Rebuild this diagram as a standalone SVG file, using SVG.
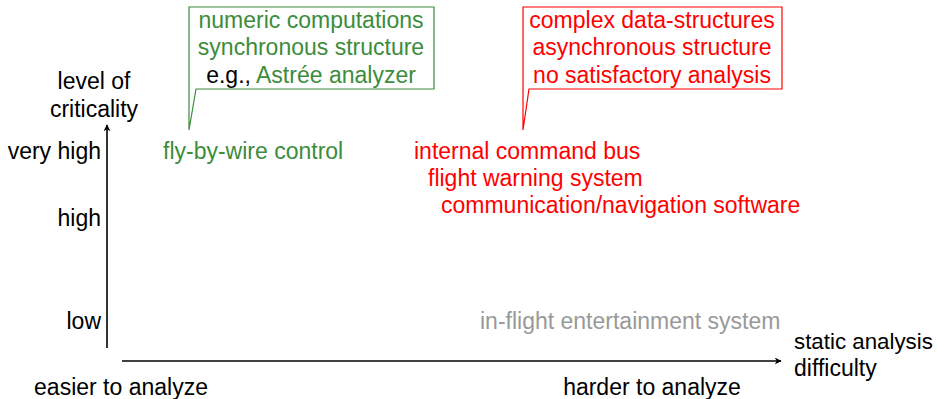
<svg xmlns="http://www.w3.org/2000/svg" width="937" height="399" viewBox="0 0 937 399">
<style>
text{font-family:"Liberation Sans",Arial,sans-serif;font-size:23px;fill:#000}
.g{fill:#3c8c3c}.r{fill:#ff0000}.gr{fill:#999999}
.m{text-anchor:middle}.e{text-anchor:end}
.axis{stroke:#000;stroke-width:1.6;fill:none}
</style>
<defs>
<marker id="ah" viewBox="0 0 10 10" refX="9" refY="5" markerWidth="7" markerHeight="7" orient="auto" markerUnits="userSpaceOnUse">
<path d="M0,0 L10,5 L0,10 L3,5 Z" fill="#000"/>
</marker>
</defs>
<g id="connectors">
<line class="axis" x1="107" y1="348" x2="107" y2="125" marker-end="url(#ah)"/>
<line class="axis" x1="122" y1="361" x2="781" y2="361" marker-end="url(#ah)"/>
</g>
<g id="y-axis-labels">
<text class="m" x="94" y="89">level of</text>
<text class="m" x="94" y="117">criticality</text>
<text class="e" x="101" y="159">very high</text>
<text class="e" x="101" y="226">high</text>
<text class="e" x="101" y="329">low</text>
</g>
<g id="x-axis-labels">
<text x="794" y="349" style="font-size:22.3px">static analysis</text>
<text x="794" y="376">difficulty</text>
<text class="m" x="121" y="395">easier to analyze</text>
<text class="m" x="652" y="395">harder to analyze</text>
</g>
<g id="green-callout">
<path d="M196,89 H434 V7 H189 V130 Z" fill="#fff" stroke="#3c8c3c" stroke-width="1.2"/>
<text class="m g" x="311" y="28">numeric computations</text>
<text class="m g" x="311" y="55">synchronous structure</text>
<text class="m" x="311" y="83">e.g., <tspan class="g">Astrée analyzer</tspan></text>
</g>
<g id="red-callout">
<path d="M529,89 H782 V7 H523 V130 Z" fill="#fff" stroke="#ff0000" stroke-width="1.2"/>
<text class="m r" x="652" y="28">complex data-structures</text>
<text class="m r" x="652" y="55">asynchronous structure</text>
<text class="m r" x="652" y="83">no satisfactory analysis</text>
</g>
<g id="fly-by-wire">
<text class="g" x="163" y="159">fly-by-wire control</text>
</g>
<g id="red-systems">
<text class="r" x="414" y="159">internal command bus</text>
<text class="r" x="428" y="186">flight warning system</text>
<text class="r" x="441" y="213">communication/navigation software</text>
</g>
<g id="entertainment">
<text class="gr" x="480" y="329">in-flight entertainment system</text>
</g>
</svg>
